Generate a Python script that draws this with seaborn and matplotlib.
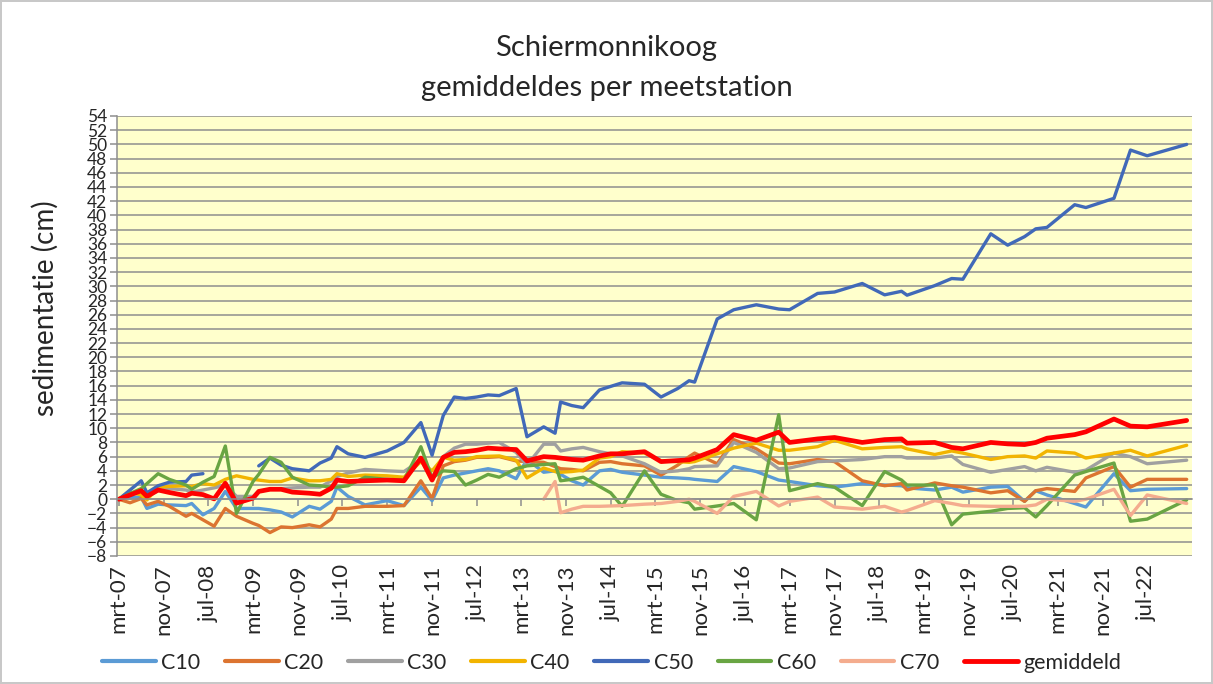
import matplotlib
matplotlib.use("Agg")
import matplotlib.pyplot as plt
from matplotlib.lines import Line2D
import numpy as np
import pandas as pd
import seaborn as sns

# meetmomenten (maand)
dates = [
    "2007-03", "2007-05", "2007-07", "2007-08", "2007-10", "2007-12",
    "2008-03", "2008-04", "2008-06", "2008-08", "2008-10", "2008-12",
    "2009-03", "2009-04", "2009-06", "2009-08", "2009-10",
    "2010-01", "2010-03", "2010-05", "2010-06", "2010-08", "2010-11",
    "2011-03", "2011-06", "2011-09", "2011-11",
    "2012-01", "2012-03", "2012-05", "2012-07", "2012-09", "2012-11",
    "2013-02", "2013-04", "2013-07", "2013-09", "2013-10", "2013-12",
    "2014-02", "2014-05", "2014-07", "2014-09", "2015-01", "2015-04",
    "2015-07", "2015-09", "2015-10", "2016-02", "2016-05", "2016-09",
    "2017-01", "2017-03", "2017-08", "2017-11",
    "2018-04", "2018-08", "2018-11", "2018-12",
    "2019-05", "2019-08", "2019-10",
    "2020-03", "2020-06", "2020-09", "2020-11", "2021-01",
    "2021-06", "2021-08", "2022-01", "2022-04", "2022-07", "2023-02",
]

c10 = [0, 0.3, 0.3, -1.3, -0.7, -0.8,
       -0.9, -0.6, -2.2, -1.3, 1.1, -1.3,
       -1.3, -1.3, -1.5, -1.8, -2.5,
       -1.0, -1.4, -0.3, 1.7, 0.4, -0.8,
       -0.2, -0.9, 1.7, -0.2,
       3.0, 3.4, 3.7, 4.0, 4.3, 4.0,
       2.9, 5.6, 3.8, 4.0, 3.5, 2.6,
       2.0, 4.0, 4.2, 3.8, 3.4, 3.1,
       3.0, 2.9, 2.8, 2.5, 4.6, 3.9,
       2.7, 2.5, 1.9, 1.7,
       2.2, 2.0, 1.9, 1.6,
       1.3, 1.7, 1.0,
       1.7, 1.8, -0.3, 1.2, 0.6,
       -0.6, -1.1, 3.6, 1.2, 1.4, 1.5]

c20 = [0, -0.5, 0.1, -0.8, -0.3, -1.0,
       -2.4, -2.0, -2.9, -3.8, -1.3, -2.4,
       -3.4, -3.7, -4.7, -3.9, -4.0,
       -3.6, -3.9, -2.8, -1.3, -1.3, -1.0,
       -1.0, -0.9, 2.6, 0.1,
       4.7, 5.3, 5.5, 5.9, 5.9, 6.0,
       5.4, 5.3, 5.2, 4.6, 4.3, 4.2,
       4.0, 5.2, 5.3, 5.0, 4.7, 3.4,
       4.8, 6.0, 6.5, 5.0, 8.4, 7.1,
       5.1, 5.0, 5.6, 5.3,
       2.6, 1.9, 2.2, 1.3,
       2.3, 1.9, 1.7,
       0.9, 1.2, -0.3, 1.2, 1.5,
       1.1, 3.0, 4.6, 1.7, 2.8, 2.8]

c30 = [0, 0.8, 1.0, 0.3, 1.2, 1.5,
       1.3, 1.0, 1.3, 1.6, 2.0, 0.4,
       0.4, 1.1, 1.4, 1.5, 1.6,
       1.7, 1.7, 2.6, 3.2, 3.7, 4.2,
       4.0, 3.9, 5.5, 3.0,
       6.0, 7.2, 7.75, 7.75, 7.9, 8.0,
       6.6, 4.8, 7.75, 7.75, 6.8, 7.1,
       7.3, 6.7, 6.4, 6.1, 5.0, 3.8,
       4.0, 4.3, 4.6, 4.7, 8.0, 6.6,
       4.3, 4.4, 5.3, 5.4,
       5.6, 6.0, 6.0, 5.8,
       5.8, 6.1, 4.9,
       3.8, 4.2, 4.6, 4.0, 4.5,
       3.8, 4.1, 6.5, 6.0, 5.0, 5.5]

c40 = [0, 1.0, 0.6, -0.1, 1.7, 1.8,
       1.9, 1.8, 2.2, 2.0, 2.8, 3.3,
       2.8, 2.7, 2.5, 2.5, 3.0,
       2.6, 2.6, 2.8, 3.6, 3.2, 3.4,
       3.3, 3.1, 5.3, 4.0,
       5.9, 5.5, 5.6, 6.0, 6.05, 6.1,
       5.5, 3.0, 4.4, 3.9, 3.8, 3.9,
       4.1, 5.8, 6.0, 6.7, 6.5, 5.4,
       5.3, 5.2, 5.3, 6.4, 7.2, 7.9,
       6.9, 6.9, 7.4, 8.3,
       7.1, 7.3, 7.4, 7.1,
       6.3, 6.8, 6.5,
       5.6, 6.0, 6.1, 5.8, 6.8,
       6.5, 5.8, 6.5, 6.9, 6.1, 7.6]

c50 = [0, 1.3, 2.6, 0.9, 1.9, 2.4,
       2.5, 3.4, 3.6, np.nan, np.nan, np.nan,
       np.nan, 4.7, 5.8, 4.8, 4.3,
       4.0, 5.1, 5.8, 7.4, 6.4, 5.9,
       6.8, 8.0, 10.8, 6.2,
       11.8, 14.4, 14.2, 14.4, 14.7, 14.6,
       15.6, 8.8, 10.2, 9.3, 13.7, 13.2,
       12.9, 15.4, 15.9, 16.4, 16.2, 14.4,
       15.6, 16.7, 16.5, 25.4, 26.7, 27.4,
       26.8, 26.7, 29.0, 29.2,
       30.4, 28.8, 29.3, 28.75,
       30.1, 31.1, 31.0,
       37.4, 35.8, 37.0, 38.1, 38.3,
       41.5, 41.1, 42.4, 49.2, 48.4, 50.0]

c60 = [0, 0.8, 1.5, 2.2, 3.6, 2.8,
       2.0, 1.4, 2.4, 3.2, 7.5, -2.0,
       2.5, 3.5, 5.9, 5.2, 3.1,
       2.0, 1.9, 1.7, 1.7, 1.9, 3.1,
       2.8, 2.7, 7.4, 3.0,
       4.0, 3.9, 2.0, 2.7, 3.5, 3.1,
       4.3, 4.7, 4.9, 5.0, 2.6, 2.8,
       3.1, 1.8, 0.9, -1.0, 4.0, 0.7,
       -0.2, -0.5, -1.4, -0.95, -0.6, -2.9,
       11.9, 1.2, 2.2, 1.7,
       -0.9, 3.9, 2.7, 2.0,
       2.0, -3.6, -2.1,
       -1.7, -1.3, -1.2, -2.5, -0.9,
       3.4, 3.9, 5.1, -3.1, -2.8, -0.1]

# C70 is pas vanaf medio 2013 gemeten
c70 = [np.nan] * 35 + [
       0.0, 2.5, -1.9, -1.4,
       -1.0, -1.0, -0.95, -0.9, -0.7, -0.6,
       -0.3, 0.0, -0.3, -2.0, 0.4, 1.1,
       -0.95, -0.3, 0.3, -1.1,
       -1.4, -1.0, -1.8, -1.6,
       -0.2, -0.6, -0.9,
       -1.0, -1.0, -1.0, -0.8, 0.0,
       -0.3, 0.0, 1.4, -2.3, 0.6, -0.6]

gemiddeld = [0, 0.6, 1.2, 0.4, 1.3, 0.95,
             0.5, 0.85, 0.65, 0.05, 2.25, -0.55,
             0.15, 1.1, 1.4, 1.4, 1.0,
             0.85, 0.7, 1.55, 2.7, 2.5, 2.6,
             2.7, 2.6, 5.8, 2.7,
             5.9, 6.6, 6.7, 6.9, 7.2, 7.1,
             7.0, 5.4, 6.0, 5.9, 5.8, 5.6,
             5.5, 6.1, 6.4, 6.4, 6.7, 5.3,
             5.45, 5.55, 5.8, 7.0, 9.1, 8.3,
             9.45, 8.0, 8.5, 8.7,
             8.0, 8.4, 8.5, 7.9,
             8.0, 7.3, 7.1,
             8.0, 7.8, 7.7, 8.0, 8.6,
             9.1, 9.5, 11.3, 10.3, 10.2, 11.1]

stations = ["C10", "C20", "C30", "C40", "C50", "C60", "C70", "gemiddeld"]
colors = ["#5B9BD5", "#DC7430", "#A0A0A0", "#F2B400",
          "#4169B8", "#69A543", "#F4AC8E", "#FF0000"]
maanden = ["jan", "feb", "mrt", "apr", "mei", "jun",
           "jul", "aug", "sep", "okt", "nov", "dec"]

grey = "#8E8E8E"

sns.set_theme(style="white")
plt.rcParams["font.family"] = ["Lato", "DejaVu Sans"]

# long format, gaps split into separate segments ("deel")
frames = []
for name, vals in zip(stations, [c10, c20, c30, c40, c50, c60, c70, gemiddeld]):
    d = pd.DataFrame({"datum": pd.to_datetime(dates), "station": name, "cm": vals})
    d["deel"] = d["cm"].isna().cumsum()
    frames.append(d)
df = pd.concat(frames, ignore_index=True).dropna()

fig = plt.figure(figsize=(12.13, 6.84), dpi=100)
fig.patch.set_facecolor("white")
fig.patch.set_edgecolor("#C8C8C8")
fig.patch.set_linewidth(1.5)
ax = fig.add_axes([117 / 1213, 1 - 556 / 684, (1192 - 117) / 1213, (556 - 116) / 684])
ax.set_facecolor("#FFFFCC")

sns.lineplot(data=df[df["station"] != "gemiddeld"], x="datum", y="cm",
             hue="station", hue_order=stations[:-1], palette=colors[:-1],
             units="deel", estimator=None, linewidth=2.4, legend=False, ax=ax)
sns.lineplot(data=df[df["station"] == "gemiddeld"], x="datum", y="cm",
             color=colors[-1], linewidth=3.4, legend=False, ax=ax)

ax.set_ylim(-8, 54)
ax.set_yticks(np.arange(-8, 56, 2))
ax.set_xlim(pd.Timestamp("2007-02-19"), pd.Timestamp("2023-03-02"))
ax.yaxis.grid(True, color=grey, linewidth=1.1)
ax.xaxis.grid(False)
ax.set_axisbelow(True)
ax.set_xlabel("")
ax.set_ylabel("")

for side in ["top", "right"]:
    ax.spines[side].set_visible(False)
ax.spines["left"].set_color(grey)
ax.spines["left"].set_linewidth(1.1)
ax.spines["bottom"].set_position(("data", 0))
ax.spines["bottom"].set_color(grey)
ax.spines["bottom"].set_linewidth(1.1)

ticks = pd.date_range("2007-03-01", "2022-07-01", freq="8MS")
labels = [f"{maanden[t.month - 1]}-{t:%y}" for t in ticks]
ax.set_xticks(ticks)
ax.tick_params(axis="x", bottom=True, labelbottom=False, direction="out",
               length=5, width=1.1, color=grey)
ax.tick_params(axis="y", left=True, direction="out", length=5, width=1.1,
               color=grey, labelsize=12.5, pad=2)

sec = ax.secondary_xaxis("bottom")
sec.set_xticks(ax.get_xticks(), labels)
sec.tick_params(length=0, pad=6, labelsize=16, labelrotation=90)
sec.spines["bottom"].set_visible(False)

fig.text(0.5, 1 - 48 / 684, "Schiermonnikoog", ha="center", va="center", fontsize=21)
fig.text(0.5, 1 - 88 / 684, "gemiddeldes per meetstation", ha="center", va="center",
         fontsize=21)
fig.text(45 / 1213, 1 - 308 / 684, "sedimentatie (cm)", rotation=90,
         ha="center", va="center", fontsize=20)

handles = [Line2D([], [], color=c, linewidth=3.5 if n == "gemiddeld" else 3.0)
           for n, c in zip(stations, colors)]
fig.legend(handles, stations, loc="center", bbox_to_anchor=(0.504, 0.031),
           ncol=8, frameon=False, fontsize=15.5, handlelength=2.5,
           handletextpad=0.25, columnspacing=1.15)

fig.savefig("out.png", dpi=100, facecolor=fig.get_facecolor(),
            edgecolor=fig.get_edgecolor())
